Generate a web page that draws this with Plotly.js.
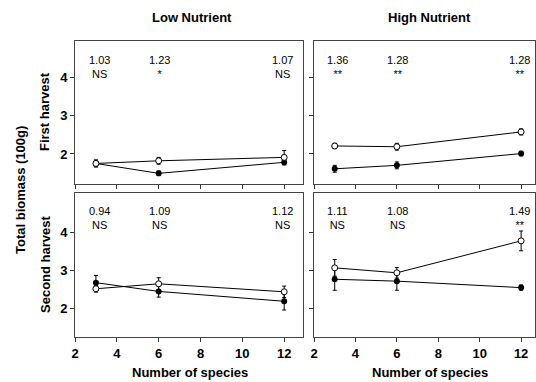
<!DOCTYPE html>
<html><head><meta charset="utf-8">
<script src="https://cdn.plot.ly/plotly-3.0.1.min.js"></script>
<style>html,body{margin:0;padding:0;background:#fff}</style>
</head><body><div id="chart" style="width:536px;height:382px"></div>
<script>
const species = [3, 6, 12];
// Low nutrient, first harvest
const lowFirstOpen = [1.75, 1.82, 1.91];
const lowFirstOpenErr = [0.09, 0.09, 0.18];
const lowFirstFilled = [1.75, 1.49, 1.78];
const lowFirstFilledErr = [0.09, 0.06, 0.07];
// High nutrient, first harvest
const highFirstOpen = [2.21, 2.19, 2.58];
const highFirstOpenErr = [0.07, 0.09, 0.08];
const highFirstFilled = [1.61, 1.70, 2.01];
const highFirstFilledErr = [0.09, 0.09, 0.06];
// Low nutrient, second harvest
const lowSecondOpen = [2.51, 2.64, 2.43];
const lowSecondOpenErr = [0.09, 0.16, 0.15];
const lowSecondFilled = [2.67, 2.44, 2.18];
const lowSecondFilledErr = [0.19, 0.15, 0.23];
// High nutrient, second harvest
const highSecondOpen = [3.06, 2.93, 3.77];
const highSecondOpenErr = [0.22, 0.14, 0.26];
const highSecondFilled = [2.76, 2.71, 2.54];
const highSecondFilledErr = [0.29, 0.24, 0.07];
// Ratios and significance
const lowFirstRatio = ['1.03', '1.23', '1.07'];
const lowFirstSig = ['NS', '*', 'NS'];
const highFirstRatio = ['1.36', '1.28', '1.28'];
const highFirstSig = ['**', '**', '**'];
const lowSecondRatio = ['0.94', '1.09', '1.12'];
const lowSecondSig = ['NS', 'NS', 'NS'];
const highSecondRatio = ['1.11', '1.08', '1.49'];
const highSecondSig = ['NS', 'NS', '**'];
const xTicks = [2, 4, 6, 8, 10, 12];
const yTicks = [2, 3, 4];

const panels = [
  {xa:'x', ya:'y', open:lowFirstOpen, oe:lowFirstOpenErr, fill:lowFirstFilled, fe:lowFirstFilledErr, r:lowFirstRatio, s:lowFirstSig},
  {xa:'x2', ya:'y2', open:highFirstOpen, oe:highFirstOpenErr, fill:highFirstFilled, fe:highFirstFilledErr, r:highFirstRatio, s:highFirstSig},
  {xa:'x3', ya:'y3', open:lowSecondOpen, oe:lowSecondOpenErr, fill:lowSecondFilled, fe:lowSecondFilledErr, r:lowSecondRatio, s:lowSecondSig},
  {xa:'x4', ya:'y4', open:highSecondOpen, oe:highSecondOpenErr, fill:highSecondFilled, fe:highSecondFilledErr, r:highSecondRatio, s:highSecondSig}
];

const traces = [];
const annotations = [];
const FONT = 'Liberation Sans, Arial, sans-serif';
panels.forEach(p => {
  traces.push({x:species, y:p.fill, xaxis:p.xa, yaxis:p.ya, type:'scatter', mode:'lines+markers',
    line:{color:'#000', width:1}, marker:{symbol:'circle', size:6, color:'#000'},
    error_y:{type:'data', array:p.fe, visible:true, color:'#000', thickness:1, width:2}, showlegend:false});
  traces.push({x:species, y:p.open, xaxis:p.xa, yaxis:p.ya, type:'scatter', mode:'lines+markers',
    line:{color:'#000', width:1}, marker:{symbol:'circle', size:6, color:'#fff', line:{color:'#000', width:1}},
    error_y:{type:'data', array:p.oe, visible:true, color:'#000', thickness:1, width:2}, showlegend:false});
  const isBottom = p.ya === 'y3' || p.ya === 'y4';
  species.forEach((sx, i) => {
    const ax = sx === 3 ? 3.15 : (sx === 6 ? 6.05 : 11.9);
    annotations.push({x:ax, y:isBottom ? 4.36 : 4.28, xref:p.xa, yref:p.ya,
      text:p.r[i] + '<br>' + p.s[i], showarrow:false,
      xanchor:'center', yanchor:'middle', font:{family:FONT, size:11, color:'#000'}});
  });
});

const paperText = (text, x, y, size, angle) => ({text:'<b>'+text+'</b>', x:x, y:y, xref:'paper', yref:'paper',
  xanchor:'center', yanchor:'middle',
  showarrow:false, textangle:angle||0, font:{family:FONT, size:size, color:'#000'}});
annotations.push(paperText('Low Nutrient', 192/536, 1-18/382, 13));
annotations.push(paperText('High Nutrient', 429/536, 1-18/382, 13));
annotations.push(paperText('First harvest', 45/536, 1-112/382, 13, -90));
annotations.push(paperText('Second harvest', 45/536, 1-265/382, 13, -90));
annotations.push(paperText('Total biomass (100g)', 20/536, 1-190/382, 13, -90));
annotations.push(paperText('Number of species', 190/536, 1-372/382, 13));
annotations.push(paperText('Number of species', 430/536, 1-372/382, 13));

const baseX = {range:[2, 12.9], tickvals:xTicks, ticks:'outside', ticklen:4, tickcolor:'#333',
  showline:true, linecolor:'#444', linewidth:1, mirror:true, showgrid:false, zeroline:false,
  tickfont:{family:FONT, size:13, color:'#000', weight:'bold'}};
const baseY = {tickvals:yTicks, ticks:'outside', ticklen:4, tickcolor:'#333',
  showline:true, linecolor:'#444', linewidth:1, mirror:true, showgrid:false, zeroline:false,
  tickfont:{family:FONT, size:13, color:'#000', weight:'bold'}};

const L = [75/536, 303/536], R = [314/536, 535/536];
const T = [1-184/382, 1-41/382], B = [1-337/382, 1-193/382];

const layout = {
  width:536, height:382, margin:{l:0, r:0, t:0, b:0}, paper_bgcolor:'#fff', plot_bgcolor:'#fff',
  showlegend:false,
  xaxis: Object.assign({}, baseX, {domain:L, anchor:'y', showticklabels:false}),
  yaxis: Object.assign({}, baseY, {domain:T, anchor:'x', range:[1.21, 4.97]}),
  xaxis2: Object.assign({}, baseX, {domain:R, anchor:'y2', showticklabels:false, range:[2, 12.67]}),
  yaxis2: Object.assign({}, baseY, {domain:T, anchor:'x2', range:[1.21, 4.97], showticklabels:false}),
  xaxis3: Object.assign({}, baseX, {domain:L, anchor:'y3'}),
  yaxis3: Object.assign({}, baseY, {domain:B, anchor:'x3', range:[1.24, 5.03]}),
  xaxis4: Object.assign({}, baseX, {domain:R, anchor:'y4', range:[2, 12.67]}),
  yaxis4: Object.assign({}, baseY, {domain:B, anchor:'x4', range:[1.24, 5.03], showticklabels:false}),
  annotations: annotations
};
Plotly.newPlot('chart', traces, layout, {displayModeBar:false, staticPlot:true});
</script></body></html>
